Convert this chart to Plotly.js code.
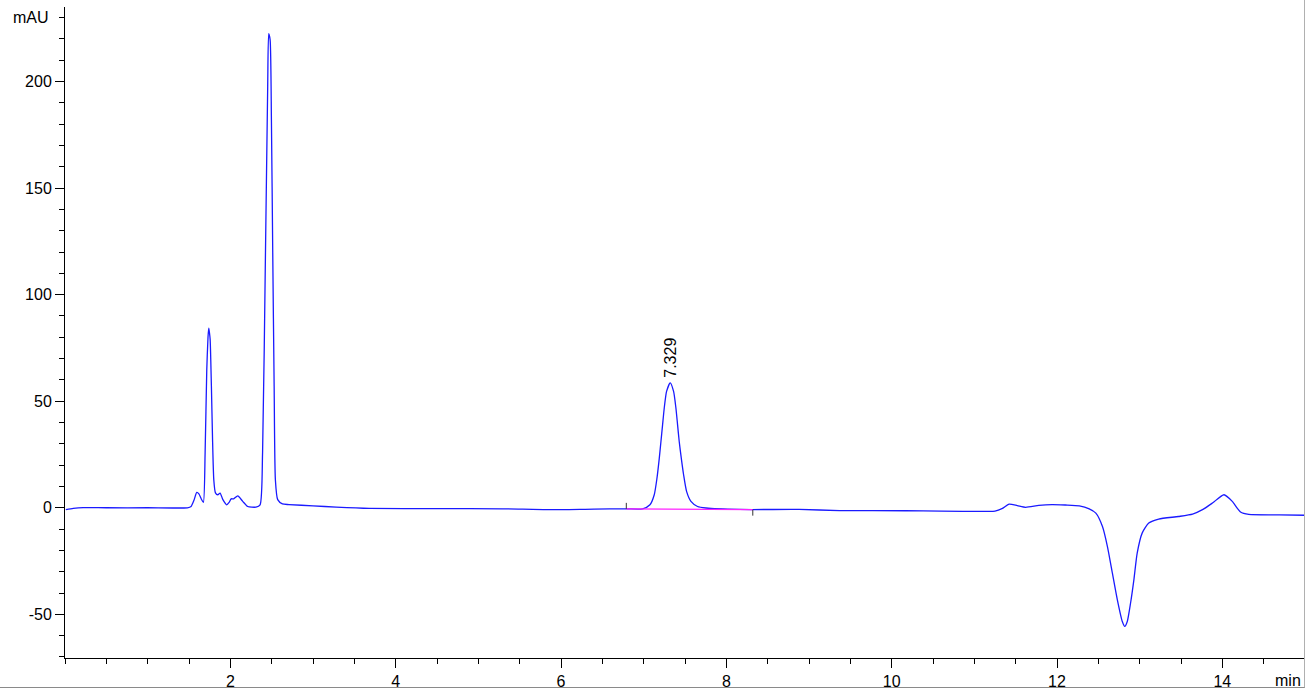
<!DOCTYPE html>
<html>
<head>
<meta charset="utf-8">
<script src="https://cdn.plot.ly/plotly-3.0.1.min.js"></script>
<style>
html,body{margin:0;padding:0;background:#fff;overflow:hidden;}
#chart{width:1305px;height:690px;}
#bd{position:absolute;left:0;top:0;width:1304px;height:687px;border-right:1px solid #b0b0b0;border-bottom:1px solid #8a8a8a;pointer-events:none;}
</style>
</head>
<body>
<div id="chart"></div>
<div id="bd"></div>
<script>
// Chromatogram (time in min, signal in mAU)
const time = [0.01,0.1,0.22,0.5,1.0,1.48,1.525,1.56,1.594,1.62,1.65,1.674,1.695,1.715,1.73,1.739,1.748,1.756,1.771,1.784,1.80,1.82,1.848,1.876,1.91,1.956,1.985,2.01,2.04,2.09,2.15,2.21,2.31,2.36,2.39,2.425,2.452,2.464,2.481,2.497,2.513,2.53,2.545,2.573,2.63,2.71,3.0,3.28,3.68,4.5,5.29,5.86,6.4,6.79,6.987,7.076,7.128,7.161,7.189,7.209,7.229,7.249,7.277,7.321,7.362,7.39,7.41,7.43,7.455,7.483,7.519,7.572,7.652,7.753,8.16,8.88,9.37,10.17,10.6,11.14,11.25,11.34,11.42,11.52,11.62,11.78,11.94,12.1,12.27,12.39,12.47,12.55,12.61,12.67,12.73,12.79,12.82,12.85,12.89,12.93,12.97,13.03,13.11,13.23,13.47,13.64,13.76,13.88,14.02,14.12,14.22,14.32,14.69,15.0];
const signal = [-0.9,-0.3,0.1,0.0,0.0,0.0,0.6,3.5,7.2,6.5,4.0,2.5,25.8,64.8,80,84.3,82,78.9,57,33.5,13.1,7.0,6.1,6.9,3.8,1.4,2.5,4.2,4.2,5.6,3.0,0.6,0.3,1.4,25.8,119.7,197.8,222.5,219.7,182,119.7,57,13.1,3.8,1.8,1.5,0.9,0.3,-0.3,-0.4,-0.5,-0.9,-0.6,-0.5,-0.5,1.4,6.1,13.9,23.3,31.1,39.0,46.8,54.6,58.6,54.6,46.8,39.0,31.1,23.3,15.5,7.7,3.0,0.6,-0.1,-0.8,-0.8,-1.3,-1.4,-1.6,-1.7,-1.6,-0.3,1.7,1.0,0.2,1.1,1.5,1.3,0.9,-0.5,-2.5,-8.8,-18.2,-30.7,-43.2,-53.4,-55.7,-53.4,-44.7,-33.8,-21.3,-11.9,-7.2,-5.3,-4.1,-3.0,-0.9,2.2,6.1,3.0,-2.0,-3.1,-3.3,-3.5];

// Integrated peak
const peakLabel = "7.329";
const peakTime = 7.329;
const peakHeight = 58.6;
const integTimes = [6.79, 8.32];
const integValues = [-0.5, -0.9];
const markerLen = 2.8;

const xTickVals = [2,4,6,8,10,12,14];
const yTickVals = [-50,0,50,100,150,200];

const font = {family: "Liberation Sans, Arial, sans-serif", size: 16, color: "#000"};

const traces = [
  {x: time, y: signal, type: "scatter", mode: "lines",
   line: {color: "#1a1aff", width: 1.3, shape: "spline", smoothing: 0.6}, hoverinfo: "skip"},
  {x: integTimes, y: integValues, type: "scatter", mode: "lines",
   line: {color: "#ff22ff", width: 1.2}, hoverinfo: "skip"},
  {x: [integTimes[0], integTimes[0]], y: [integValues[0], integValues[0] + markerLen], type: "scatter", mode: "lines",
   line: {color: "#333", width: 1}, hoverinfo: "skip"},
  {x: [integTimes[1], integTimes[1]], y: [integValues[1], integValues[1] - markerLen], type: "scatter", mode: "lines",
   line: {color: "#333", width: 1}, hoverinfo: "skip"}
];

const layout = {
  width: 1305, height: 690,
  margin: {l: 65, r: 0, t: 7, b: 32},
  paper_bgcolor: "#fff", plot_bgcolor: "#fff",
  showlegend: false,
  font: font,
  xaxis: {
    range: [0, 15], showgrid: false, zeroline: false,
    showline: true, linecolor: "#000", linewidth: 1,
    tickmode: "array", tickvals: xTickVals, ticktext: xTickVals.map(String),
    ticks: "outside", ticklen: 9, tickcolor: "#000", tickwidth: 1,
    tickfont: font,
    minor: {tickmode: "linear", tick0: 0, dtick: 0.5, ticks: "outside", ticklen: 5, tickcolor: "#000", showgrid: false}
  },
  yaxis: {
    range: [-70.5, 235], showgrid: false, zeroline: false,
    showline: true, linecolor: "#000", linewidth: 1,
    tickmode: "array", tickvals: yTickVals, ticktext: yTickVals.map(String),
    ticks: "outside", ticklen: 9, tickcolor: "#000", tickwidth: 1,
    tickfont: font,
    minor: {tickmode: "linear", tick0: 0, dtick: 10, ticks: "outside", ticklen: 5, tickcolor: "#000", showgrid: false}
  },
  annotations: [
    {text: peakLabel, x: peakTime, y: peakHeight, xref: "x", yref: "y",
     textangle: -90, showarrow: false, xanchor: "center", yanchor: "bottom", yshift: 3, font: font},
    {text: "mAU", xref: "paper", yref: "paper", x: 0, y: 1, xanchor: "right", yanchor: "middle",
     xshift: -14, yshift: -10, showarrow: false, font: font},
    {text: "min", xref: "paper", yref: "paper", x: 1, y: 0, xanchor: "right", yanchor: "top",
     xshift: -2, yshift: -12, showarrow: false, font: font}
  ]
};

Plotly.newPlot("chart", traces, layout, {displayModeBar: false, staticPlot: true});
</script>
</body>
</html>
